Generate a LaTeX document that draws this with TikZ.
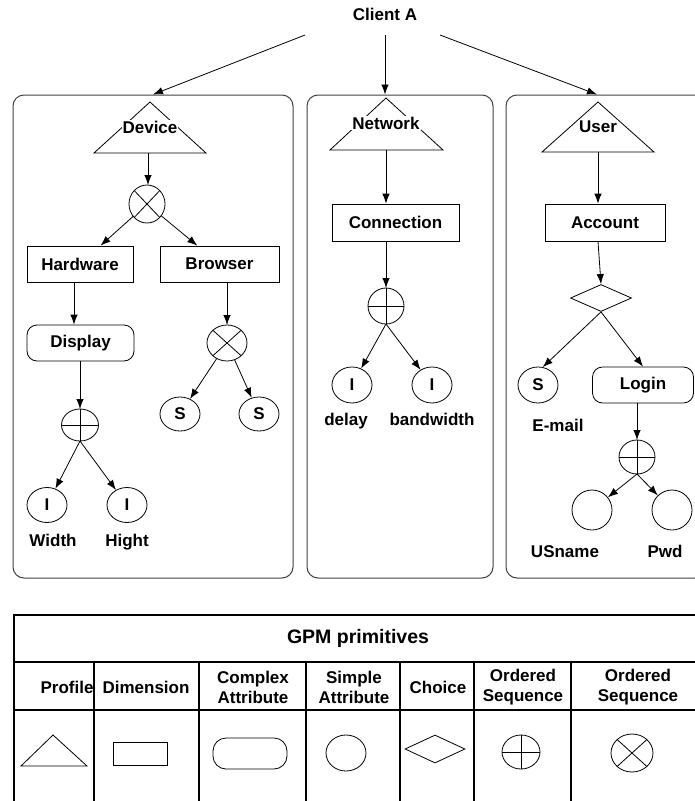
\documentclass[tikz,border=0pt]{standalone}
\usepackage{fontspec}
\setmainfont{Liberation Sans}
\usetikzlibrary{shapes.geometric,arrows.meta}

\begin{document}
\begin{tikzpicture}[x=1pt,y=-1pt,
  font=\fontsize{17}{20}\selectfont\bfseries,
  line width=0.8pt,
  arr/.style={-{Latex[length=10pt,width=7.5pt]}},
  panel/.style={draw=black!75, line width=1pt, rounded corners=11pt, inner sep=0pt},
  dimbox/.style={draw, rectangle, inner sep=0pt, minimum height=36pt},
  cplx/.style={draw, rectangle, rounded corners=10pt, inner sep=0pt, minimum height=36pt},
  attr/.style={draw, ellipse, inner sep=0pt, minimum width=40pt, minimum height=35pt},
  choice/.style={draw, diamond, inner sep=0pt},
  seq/.style={draw, ellipse, inner sep=0pt, outer sep=0pt},
  plusseq/.style={seq, path picture={\draw (path picture bounding box.north) -- (path picture bounding box.south)
      (path picture bounding box.west) -- (path picture bounding box.east);}},
  crossseq/.style={seq, path picture={\draw (path picture bounding box.north west) -- (path picture bounding box.south east)
      (path picture bounding box.north east) -- (path picture bounding box.south west);}},
  proflabel/.style={fill=white, inner sep=1pt},
  lbl/.style={inner sep=0pt, text height=12.5pt, text depth=3.5pt},
  tbl/.style={draw=black, line width=1.1pt},
]
\useasboundingbox (0,0) rectangle (695,801);
\clip (0,0) rectangle (695,801);

% ---------- root ----------
\node (client) at (385,14) {Client A};
\coordinate (ca1) at (305,35);
\coordinate (ca2) at (385,35);
\coordinate (ca3) at (440,35);

% ---------- profile panels ----------
\node[panel, minimum width=280pt, minimum height=483pt] (pdev) at (153,336.5) {};
\node[panel, minimum width=186pt, minimum height=483pt] (pnet) at (400,336.5) {};
\node[panel, minimum width=200pt, minimum height=483pt] (pusr) at (606,336.5) {};

\draw[arr] (ca1) -- (pdev.north);
\draw[arr] (ca2) -- (ca2 |- pnet.north);
\draw[arr] (ca3) -- ([xshift=-9pt]pusr.north);

% ---------- Device ----------
\draw (150,102) -- (206,153) -- (94,153) -- cycle;
\coordinate (devbase) at (148,153);
\node[proflabel] (dev) at (150,127) {Device};
\node[crossseq, minimum width=36pt, minimum height=38pt] (dx) at (147,204) {};
\node[dimbox, minimum width=106pt] (hw) at (80,264) {Hardware};
\node[dimbox, minimum width=119pt] (br) at (219.5,264) {Browser};
\node[cplx, minimum width=107pt] (disp) at (80.5,343) {Display};
\node[plusseq, minimum width=37pt, minimum height=32pt] (dp) at (80,425) {};
\node[attr] (wI) at (47,505) {I};
\node[attr] (hI) at (127,505) {I};
\node[lbl] (wlbl) at (53,542) {Width};
\node[lbl] (hlbl) at (127,542) {Hight};
\node[crossseq, minimum width=40pt, minimum height=36pt] (bx) at (227,343) {};
\node[attr, minimum height=34pt] (s1) at (180,414) {S};
\node[attr, minimum height=34pt] (s2) at (259,414) {S};

\draw[arr] (devbase) -- (devbase |- dx.north);
\draw[arr] (dx) -- (hw);
\draw[arr] (dx) -- (br);
\draw[arr] ([xshift=-6pt]hw.south) -- ([xshift=-6pt]hw.south |- disp.north);
\draw[arr] (disp.south -| dp.north) -- (dp.north);
\draw[arr] (dp.south) -- (wI);
\draw[arr] (dp.south) -- (hI);
\draw[arr] (br.south -| bx.north) -- (bx.north);
\draw[arr] (bx) -- (s1);
\draw[arr] (bx) -- (s2);

% ---------- Network ----------
\draw (386,98) -- (443,150) -- (330,150) -- cycle;
\coordinate (netbase) at (386,150);
\node[proflabel] (net) at (386,123) {Network};
\node[dimbox, minimum width=127pt, minimum height=37pt] (conn) at (395.5,222.5) {Connection};
\node[plusseq, minimum width=36pt, minimum height=36pt] (np) at (386,306) {};
\node[attr, minimum height=36pt] (dI) at (352,385) {I};
\node[attr, minimum height=36pt] (bI) at (432,385) {I};
\node[lbl] (dlbl) at (346,421) {delay};
\node[lbl] (blbl) at (432,421) {bandwidth};

\draw[arr] (netbase) -- (netbase |- conn.north);
\draw[arr] (conn.south -| np.north) -- (np.north);
\draw[arr] (np.south) -- (dI);
\draw[arr] (np.south) -- (bI);

% ---------- User ----------
\draw (598,102) -- (654,152) -- (542,152) -- cycle;
\coordinate (usrbase) at (598,152);
\node[proflabel] (usr) at (598,127) {User};
\node[dimbox, minimum width=120pt, minimum height=37pt] (acc) at (605,222.5) {Account};
\node[choice, minimum width=61pt, minimum height=27pt] (ch) at (601,298) {};
\node[attr, minimum height=36pt] (em) at (538,385) {S};
\node[cplx, minimum width=101pt] (login) at (643,385) {Login};
\node[plusseq, minimum width=36pt, minimum height=34pt] (up) at (637,457) {};
\node[attr, minimum height=40pt] (un) at (592,510) {};
\node[attr, minimum height=40pt] (pw) at (672,510) {};
\node[lbl] (elbl) at (558,427) {E-mail};
\node[lbl] (ulbl) at (565,553) {USname};
\node[lbl] (plbl) at (665,553) {Pwd};

\draw[arr] (usrbase) -- (usrbase |- acc.north);
\draw[arr] ([xshift=-7pt]acc.south) -- (ch.north);
\draw[arr] (ch.south) -- (em.75);
\draw[arr] (ch.south) -- (login.north);
\draw[arr] (login.south -| up.north) -- (up.north);
\draw[arr] (up.south) -- (un);
\draw[arr] (up.south) -- (pw);

% ---------- legend table ----------
\draw[tbl] (14,801) -- (14,615) -- (700,615);
\draw[tbl] (14,662) -- (700,662);
\draw[tbl] (14,710) -- (700,710);
\foreach \x in {94,199,306,400,474,571}
  \draw[tbl] (\x,662) -- (\x,801);
\draw[tbl, line width=1.8pt] (400,662) -- (400,710);

\node[font=\fontsize{19.5}{22}\selectfont\bfseries] (title) at (358,638) {GPM primitives};
\node (hprof) at (67,687) {Profile};
\node (hdim) at (146,687) {Dimension};
\node[align=center] (hcplx) at (253,687) {Complex\\Attribute};
\node[align=center] (hattr) at (354,687) {Simple\\Attribute};
\node (hch) at (438,687) {Choice};
\node[align=center] (hseq1) at (523,687) {Ordered\\Sequence};
\node[align=center] (hseq2) at (638,687) {Ordered\\Sequence};

\draw (53,735) -- (87,766) -- (21,766) -- cycle;
\node[dimbox, minimum width=54pt, minimum height=23pt] (lgdim) at (140,753.5) {};
\node[cplx, rounded corners=13pt, minimum width=74pt, minimum height=31pt] (lgcplx) at (250,753.5) {};
\node[attr, minimum width=40pt, minimum height=36pt] (lgattr) at (346,753) {};
\node[choice, minimum width=60pt, minimum height=28pt] (lgch) at (435,749) {};
\node[plusseq, minimum width=38pt, minimum height=34pt] (lgplus) at (521,752) {};
\node[crossseq, minimum width=42pt, minimum height=38pt] (lgx) at (632,753) {};
\end{tikzpicture}
\end{document}
